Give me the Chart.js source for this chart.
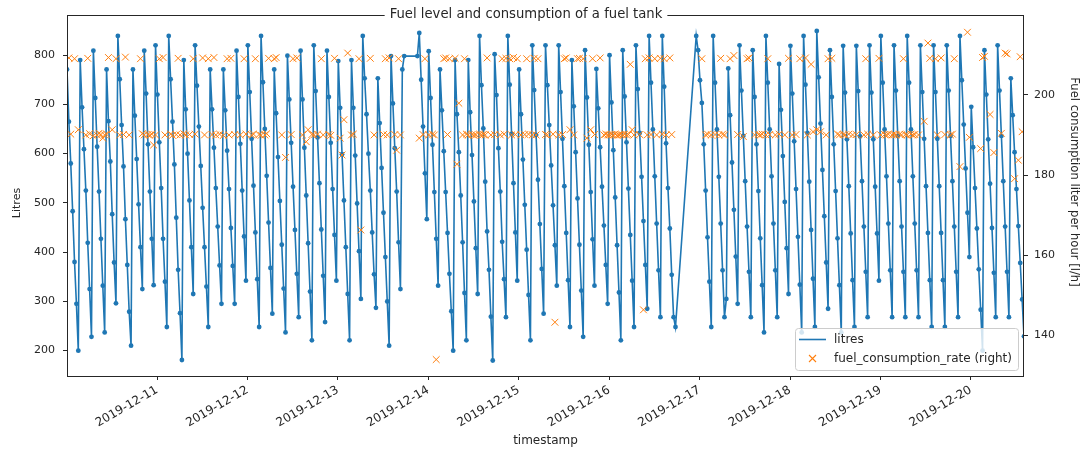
<!DOCTYPE html>
<html>
<head>
<meta charset="utf-8">
<title>Fuel level and consumption of a fuel tank</title>
<script src="https://cdn.jsdelivr.net/npm/chart.js@4.4.1/dist/chart.umd.min.js"></script>
<style>
  html, body { margin: 0; padding: 0; background: #ffffff; }
  canvas { display: block; }
</style>
</head>
<body>
<canvas id="tank" width="1085" height="450"></canvas>
<script>
// Tank level readings: one value every 30 minutes, first reading 2019-12-10 00:06.
// null = no reading (sensor gap).
const START_DATE = '2019-12-10';
const FIRST_READING_MIN = 6;
const STEP_MIN = 30;

const litresDec10 = [771,665,580,483,380,295,200,790,694,609,525,419,325,228,809,713,614,523,427,332,237,771,666,584,477,379,296,839,751,658,574,467,374,279,210,771,677,589,497,410,325,809,722,619,523,427,333,820];
const litresDec11 = [720,623,530,427,340,248,839,751,665,578,470,364,276,181,790,690,600,505,410,315,820,738,655,575,490,410,330,248,771,690,612,530,452,373,295,771,688,606,528,449,372,295,809,715,620,525,432,342];
const litresDec12 = [820,725,630,535,440,345,248,839,745,650,555,460,368,275,771,682,593,504,415,326,237,799,710,622,533,445,356,268,809,710,612,515,418,320,221,820,727,633,540,446,352,258,809,715,622,528,435,342];
const litresDec13 = [788,693,599,505,410,315,221,790,693,596,499,402,305,839,753,680,600,525,440,355,287,753,662,571,480,390,300,210,798,702,611,523,420,325,771,798,null,null,null,null,null,null,798,845,750,655,560,467];
const litresDec14 = [808,713,618,522,427,332,771,688,605,522,439,356,280,200,790,680,603,515,420,317,221,790,684,597,503,408,315,839,739,651,543,442,364,269,180,802,719,611,523,421,345,268,839,740,640,540,440,342];
const litresDec15 = [771,680,588,496,405,313,221,820,729,638,547,457,366,275,820,739,658,576,495,414,332,820,725,630,534,439,343,248,790,696,603,509,415,322,228,810,714,618,522,426,332,772,692,613,533,454,374,295];
const litresDec16 = [800,704,607,511,414,318,221,810,716,623,529,435,342,248,820,731,642,553,463,374,285,839,744,649,554,458,363,268,839,736,621,530,448,354,268,248,null,null,null,null,null,null,null,null,null,null,839,810];
const litresDec17 = [749,703,619,525,430,340,248,839,744,649,553,458,363,268,305,773,678,582,486,391,295,820,728,636,544,452,360,268,810,715,619,524,428,333,237,839,744,649,554,458,363,268,782,689,595,502,408,315];
const litresDec18 = [819,722,625,528,431,334,237,839,740,642,543,445,346,248,849,755,661,567,473,379,285,810,715,619,524,428,333,237,819,724,629,534,438,343,248,819,727,635,544,452,360,268,820,724,629,533,438,342];
const litresDec19 = [839,744,649,554,458,363,268,820,728,636,544,452,360,268,839,744,649,554,458,363,268,820,725,630,534,439,343,248,820,725,630,534,439,343,248,820,728,636,544,452,360,268,839,749,659,570,480,390];
const litresDec20 = [695,613,530,448,365,283,200,810,720,629,539,449,358,268,820,728,636,544,452,360,268,753,678,603,528,453,378,304,229];

// Fuel consumption rate [l/h] per day: [time of reading, value]
const rateDec10 = [['00:36',209.2],['01:06',190.2],['02:06',209.0],['03:06',191.3],['05:06',190.0],['05:36',209.1],['06:06',190.3],['07:06',189.8],['08:06',190.0],['08:36',190.4],['09:06',190.1],['09:36',189.2],['10:06',190.0],['10:36',190.2],['11:06',209.3],['12:06',191.3],['13:06',209.0],['14:06',190.0],['15:06',190.1],['15:36',209.4],['16:36',190.0],['19:36',209.0],['20:06',190.3],['20:36',190.0],['21:36',190.1],['22:06',189.9],['22:36',190.2],['23:06',187.5],['23:36',190.0]];
const rateDec11 = [['00:36',209.0],['01:36',209.3],['02:06',190.0],['03:36',190.2],['04:06',189.9],['05:06',190.1],['05:36',209.1],['06:06',190.0],['07:06',190.3],['07:36',190.0],['08:36',190.1],['09:36',209.0],['10:06',190.2],['12:06',209.2],['12:36',190.0],['13:36',209.0],['14:36',190.1],['15:06',209.3],['15:36',190.0],['16:36',190.2],['17:36',189.9],['18:36',209.0],['19:06',190.0],['19:36',209.1],['20:36',190.1],['22:06',190.0],['23:06',209.0],['23:36',190.2]];
const rateDec12 = [['01:06',190.0],['01:36',190.2],['02:06',209.0],['03:06',190.1],['03:36',189.9],['04:36',190.0],['05:06',190.3],['05:36',209.1],['07:06',209.0],['07:36',209.3],['09:06',190.0],['10:06',184.4],['11:36',190.1],['12:06',209.0],['13:06',209.2],['14:36',190.0],['15:36',188.3],['16:06',191.3],['17:06',190.1],['17:36',190.0],['18:36',190.2],['19:36',209.0],['20:06',190.0],['21:36',190.1],['22:06',189.9],['23:06',209.1]];
const rateDec13 = [['00:36',189.2],['01:06',185.0],['01:36',193.8],['02:36',210.4],['03:36',190.0],['04:06',190.2],['05:36',209.0],['06:06',166.3],['08:36',209.1],['09:36',190.0],['12:06',190.1],['12:36',209.0],['13:06',190.0],['13:36',209.2],['15:06',190.1],['15:36',186.2],['16:06',209.0],['16:36',190.0],['21:36',189.2],['22:36',190.1],['23:06',209.0]];
const rateDec14 = [['00:06',190.0],['01:06',190.2],['01:36',190.0],['02:06',134.0],['04:06',209.0],['04:36',209.2],['05:06',190.1],['05:36',209.0],['07:06',209.1],['07:36',182.7],['08:06',197.9],['09:06',190.0],['09:36',209.0],['10:06',190.2],['10:36',190.0],['11:36',190.1],['12:06',189.9],['12:36',190.0],['13:36',190.2],['14:06',190.0],['14:36',190.1],['15:06',190.0],['15:36',209.2],['16:36',190.0],['17:36',190.1],['19:06',190.0],['19:36',209.0],['20:06',190.2],['20:36',209.1],['21:36',209.0],['22:06',190.0],['22:36',209.3],['23:06',190.1],['23:36',209.0]];
const rateDec15 = [['00:36',190.0],['01:36',190.1],['02:06',209.0],['02:36',190.2],['03:36',190.0],['04:06',209.1],['04:36',190.0],['05:06',209.0],['07:06',190.1],['07:36',190.0],['09:06',190.2],['09:36',143.3],['10:36',190.0],['11:36',190.1],['12:06',209.0],['12:36',209.2],['13:36',191.3],['14:36',190.0],['15:36',209.0],['16:06',209.1],['17:06',209.0],['18:06',189.2],['19:06',191.3],['19:36',209.0],['20:06',190.1],['21:36',209.2],['22:36',190.0],['23:06',190.2],['23:36',190.0]];
const rateDec16 = [['00:06',190.0],['00:36',190.1],['01:06',190.0],['01:36',190.2],['02:06',189.9],['02:36',190.0],['03:06',190.1],['03:36',190.0],['04:06',190.2],['04:36',190.0],['05:06',190.1],['05:36',207.6],['06:06',191.3],['06:36',190.0],['08:06',190.1],['09:06',146.4],['09:36',209.0],['10:06',190.0],['10:36',209.2],['11:06',190.1],['12:06',209.0],['12:36',190.0],['13:36',209.1],['14:06',190.2],['14:36',209.0],['15:06',190.0],['16:06',209.2],['16:36',190.1]];
const rateDec17 = [['00:36',209.0],['01:36',190.0],['02:06',190.2],['03:06',190.0],['04:06',190.1],['05:06',190.0],['05:36',209.1],['06:06',190.2],['06:36',190.0],['08:06',209.0],['09:06',209.8],['10:06',190.1],['11:36',189.6],['12:36',209.0],['13:06',209.2],['14:36',190.0],['15:36',190.1],['16:06',190.0],['16:36',190.2],['17:36',190.0],['18:06',209.0],['18:36',190.1],['20:06',190.0],['21:06',190.2],['22:36',190.0],['23:36',209.1]];
const rateDec18 = [['00:36',190.0],['01:36',190.1],['02:36',209.0],['04:06',209.2],['04:36',190.0],['05:36',207.6],['06:06',190.8],['07:06',191.3],['08:06',190.8],['09:36',190.0],['10:06',209.0],['11:06',209.1],['12:36',190.2],['13:06',190.0],['14:06',190.1],['14:36',190.0],['15:36',190.2],['16:36',190.0],['17:36',190.1],['19:36',190.0],['20:06',209.0],['20:36',190.2],['22:06',190.0],['23:36',209.1]];
const rateDec19 = [['00:06',190.0],['01:06',190.1],['01:36',190.0],['02:06',190.2],['03:06',190.0],['03:36',190.1],['04:06',190.0],['05:06',190.2],['05:36',190.0],['06:06',209.0],['06:36',190.1],['07:06',190.0],['08:06',190.2],['08:36',190.0],['09:06',190.1],['10:06',190.0],['11:36',193.4],['12:36',212.9],['13:06',209.1],['14:36',209.0],['15:06',190.0],['16:06',209.2],['17:06',190.1],['18:36',190.0],['19:06',190.2],['19:36',209.0],['21:06',182.1],['23:06',215.6],['23:36',189.4]];
const rateDec20 = [['02:36',186.6],['03:06',209.3],['03:36',209.6],['05:06',195.1],['06:06',185.6],['08:06',190.4],['09:06',210.4],['09:36',210.2],['11:36',179.1],['12:36',183.7],['13:06',209.5],['13:36',190.8]];

// Axis ticks
const dateTickLabels = ['2019-12-11','2019-12-12','2019-12-13','2019-12-14','2019-12-15','2019-12-16','2019-12-17','2019-12-18','2019-12-19','2019-12-20'];
const litresTicks = [200, 300, 400, 500, 600, 700, 800];
const rateTicks = [140, 160, 180, 200];

// ---- build the point lists (x = hours since START_DATE 00:00) ----
const litresDays = [litresDec10, litresDec11, litresDec12, litresDec13, litresDec14, litresDec15,
                    litresDec16, litresDec17, litresDec18, litresDec19, litresDec20];
const rateDays = [rateDec10, rateDec11, rateDec12, rateDec13, rateDec14, rateDec15,
                  rateDec16, rateDec17, rateDec18, rateDec19, rateDec20];

const litresPoints = [];
litresDays.forEach((day, d) => {
  day.forEach((v, i) => {
    litresPoints.push({ x: d * 24 + (FIRST_READING_MIN + i * STEP_MIN) / 60, y: v });
  });
});

const ratePoints = [];
rateDays.forEach((day, d) => {
  day.forEach(([t, v]) => {
    const [hh, mm] = t.split(':').map(Number);
    ratePoints.push({ x: d * 24 + hh + mm / 60, y: v });
  });
});

const startMs = Date.parse(START_DATE + 'T00:00:00Z');
const dateTickHours = dateTickLabels.map(s => (Date.parse(s + 'T00:00:00Z') - startMs) / 3600000);
const labelAtHour = new Map(dateTickHours.map((h, i) => [h, dateTickLabels[i]]));

const xMin = litresPoints[0].x;
const xMax = litresPoints[litresPoints.length - 1].x;

const BLUE = '#1f77b4';
const ORANGE = '#ff7f0e';
const INK = '#262626';
const FONT = "'DejaVu Sans', 'Liberation Sans', sans-serif";
const TICK_PX = 11;
const DATE_TICK_PX = 12;
const LEGEND_PX = 12;
const TITLE_PX = 13.2;

const TEXTS = {
  title: 'Fuel level and consumption of a fuel tank',
  xLabel: 'timestamp',
  yLabel: 'Litres',
  y2Label: 'Fuel consumption liter per hour [l/h]'
};

function drawText(ctx, text, x, y, px, angle) {
  ctx.save();
  ctx.translate(x, y);
  ctx.rotate(angle);
  ctx.font = px + 'px ' + FONT;
  ctx.fillStyle = INK;
  ctx.textAlign = 'center';
  ctx.textBaseline = 'middle';
  ctx.fillText(text, 0, 0);
  ctx.restore();
}

// Frame, title, axis titles and in-plot legend
const decorations = {
  id: 'decorations',
  afterDraw(chart) {
    const { ctx, chartArea: a } = chart;
    ctx.save();

    // axes frame
    ctx.strokeStyle = INK;
    ctx.lineWidth = 1;
    ctx.strokeRect(a.left + 0.5, a.top + 0.5, a.right - a.left - 1, a.bottom - a.top);

    // title sitting on the top edge with a white backing
    ctx.font = TITLE_PX + 'px ' + FONT;
    const tw = ctx.measureText(TEXTS.title).width;
    const tcx = 526, tcy = a.top;
    ctx.fillStyle = '#ffffff';
    ctx.fillRect(tcx - tw / 2 - 5, tcy - 8, tw + 10, 16);
    drawText(ctx, TEXTS.title, tcx, tcy, TITLE_PX, 0);

    // axis titles
    drawText(ctx, TEXTS.xLabel, (a.left + a.right) / 2, 441, 12, 0);
    drawText(ctx, TEXTS.yLabel, 17, 203, 11, -Math.PI / 2);
    drawText(ctx, TEXTS.y2Label, 1074, 182, 11.6, Math.PI / 2);

    // legend (lower right, inside the axes)
    const ds = chart.data.datasets;
    ctx.font = LEGEND_PX + 'px ' + FONT;
    const textW = Math.max(...ds.map(d => ctx.measureText(d.label).width));
    const boxW = 4 + 27 + 8 + textW + 6;
    const boxH = 42;
    const bx = a.right - 6 - boxW;
    const by = a.bottom - 6 - boxH;
    ctx.beginPath();
    ctx.roundRect(bx + 0.5, by + 0.5, boxW, boxH, 3);
    ctx.fillStyle = 'rgba(255,255,255,0.8)';
    ctx.fill();
    ctx.strokeStyle = '#cccccc';
    ctx.lineWidth = 1;
    ctx.stroke();

    const row1 = by + 11.5, row2 = by + 30.5;
    const sx = bx + 4;
    ctx.strokeStyle = BLUE;
    ctx.lineWidth = 1.6;
    ctx.beginPath();
    ctx.moveTo(sx, row1);
    ctx.lineTo(sx + 27, row1);
    ctx.stroke();

    ctx.strokeStyle = ORANGE;
    ctx.lineWidth = 1.1;
    const mx = sx + 13.5, r = 3.5;
    ctx.beginPath();
    ctx.moveTo(mx - r, row2 - r); ctx.lineTo(mx + r, row2 + r);
    ctx.moveTo(mx - r, row2 + r); ctx.lineTo(mx + r, row2 - r);
    ctx.stroke();

    ctx.fillStyle = INK;
    ctx.textAlign = 'left';
    ctx.textBaseline = 'middle';
    ctx.fillText(ds[0].label, sx + 35, row1);
    ctx.fillText(ds[1].label, sx + 35, row2);
    ctx.restore();
  }
};

Chart.defaults.font.family = FONT;
Chart.defaults.font.size = TICK_PX;
Chart.defaults.color = INK;

new Chart(document.getElementById('tank'), {
  type: 'line',
  data: {
    datasets: [
      {
        label: 'litres',
        data: litresPoints,
        yAxisID: 'y',
        borderColor: BLUE,
        backgroundColor: BLUE,
        borderWidth: 1.6,
        pointRadius: 2.4,
        pointBorderWidth: 0,
        pointBackgroundColor: BLUE,
        spanGaps: true,
        tension: 0,
        order: 1
      },
      {
        label: 'fuel_consumption_rate (right)',
        data: ratePoints,
        yAxisID: 'y2',
        showLine: false,
        borderColor: ORANGE,
        backgroundColor: ORANGE,
        pointStyle: 'crossRot',
        pointRadius: 4.8,
        pointBorderWidth: 1,
        order: 0
      }
    ]
  },
  options: {
    responsive: false,
    animation: false,
    devicePixelRatio: 1,
    layout: { padding: { top: 15, left: 0, right: 0, bottom: 0 } },
    plugins: {
      legend: { display: false },
      title: { display: false },
      tooltip: { enabled: false }
    },
    scales: {
      x: {
        type: 'linear',
        position: 'bottom',
        min: xMin,
        max: xMax,
        afterBuildTicks: s => { s.ticks = dateTickHours.map(v => ({ value: v })); },
        afterFit: s => { s.height = 74; },
        ticks: {
          autoSkip: false,
          minRotation: 30,
          maxRotation: 30,
          padding: 3,
          font: { size: DATE_TICK_PX },
          callback: v => labelAtHour.get(v) || ''
        },
        grid: { display: true, drawOnChartArea: false, drawTicks: true, tickLength: 4, color: INK },
        border: { display: false },
        title: { display: false }
      },
      y: {
        type: 'linear',
        position: 'left',
        min: 148.5,
        max: 881.5,
        afterBuildTicks: s => { s.ticks = litresTicks.map(v => ({ value: v })); },
        afterFit: s => { s.width = 67; },
        ticks: { padding: 8, font: { size: TICK_PX } },
        grid: { display: true, drawOnChartArea: false, drawTicks: true, tickLength: 4, color: INK },
        border: { display: false },
        title: { display: false }
      },
      y2: {
        type: 'linear',
        position: 'right',
        min: 129.9,
        max: 219.9,
        afterBuildTicks: s => { s.ticks = rateTicks.map(v => ({ value: v })); },
        afterFit: s => { s.width = 61; },
        ticks: { padding: 6, font: { size: TICK_PX } },
        grid: { display: true, drawOnChartArea: false, drawTicks: true, tickLength: 4, color: INK },
        border: { display: false },
        title: { display: false }
      }
    }
  },
  plugins: [decorations]
});
</script>
</body>
</html>
